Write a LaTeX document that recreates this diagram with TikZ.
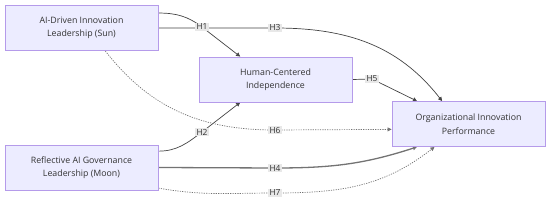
\documentclass[tikz,border=0pt]{standalone}
\usepackage{fontspec}
\setmainfont{Open Sans}
\usepackage{tikz}
\usetikzlibrary{arrows.meta, positioning, backgrounds}
\usepackage{xcolor}
\definecolor{nodefill}{HTML}{ECECFF}
\definecolor{nodeborder}{HTML}{B59BEA}
\definecolor{linkgray}{HTML}{444444}
\definecolor{labelfill}{HTML}{E8E8E8}
\definecolor{textgray}{HTML}{333333}
\tikzset{
  conceptbox/.style={
    rectangle, draw=nodeborder, fill=nodefill, line width=0.9pt, align=center,
    minimum width=153pt, minimum height=45pt, text=textgray,
    font=\fontsize{8.8}{13.5}\selectfont
  },
  hyplabel/.style={fill=labelfill, inner sep=1.2pt, text=textgray, font=\fontsize{8.4}{9}\selectfont},
  link/.style={-{Triangle[length=4pt,width=4pt]}, line width=0.7pt, color=linkgray},
  stronglink/.style={link, line width=1.3pt, color=black!55},
  dottedlink/.style={-{Triangle[length=4pt,width=4pt]}, line width=0.7pt, color=black!55,
    dash pattern=on 1.2pt off 1.2pt}
}

\begin{document}
\begin{tikzpicture}[x=1pt, y=1pt]
  \useasboundingbox (0,0) rectangle (550,204);

  \node[conceptbox] (sun)   at (81.5,176)  {AI-Driven Innovation\\Leadership (Sun)};
  \node[conceptbox] (human) at (275.5,124.5) {Human-Centered\\Independence};
  \node[conceptbox] (moon)  at (81.5,36.5) {Reflective AI Governance\\Leadership (Moon)};
  \node[conceptbox] (org)   at (468.5,80)  {Organizational Innovation\\Performance};

  % hypothesis labels
  \node[hyplabel] (h1) at (202,177) {H1};
  \node[hyplabel] (h3) at (275,176) {H3};
  \node[hyplabel] (h5) at (372,125) {H5};
  \node[hyplabel] (h2) at (202,72)  {H2};
  \node[hyplabel] (h6) at (275,74)  {H6};
  \node[hyplabel] (h4) at (275,36)  {H4};
  \node[hyplabel] (h7) at (275,11)  {H7};

  \begin{scope}[on background layer]
    \draw[link] (sun.11) to[out=0,in=143] (h1.center) -- (human.147);
    \draw[link] (sun.east) -- (h3.center) to[out=0,in=128] (org.139);
    \draw[link] (human.east) -- (h5.center) -- (org.156);
    \draw[link] (moon.12) to[out=0,in=217] (h2.center) -- (human.213);
    \draw[dottedlink] (sun.-44) to[out=-52,in=180] (h6.center) -- (org.184);
    \draw[stronglink] (moon.east) -- (h4.center) to[out=0,in=198] (org.204);
    \draw[dottedlink] (moon.-15) to[out=-10,in=180] (h7.center) to[out=0,in=218] (org.214);
  \end{scope}
\end{tikzpicture}
\end{document}
